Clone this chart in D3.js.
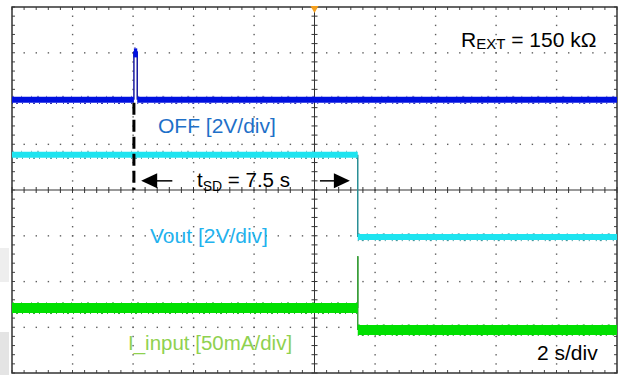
<!DOCTYPE html>
<html>
<head>
<meta charset="utf-8">
<script src="https://cdn.jsdelivr.net/npm/d3@7"></script>
<style>
  html, body { margin: 0; padding: 0; background: #fff; }
  svg { display: block; }
  text { font-family: "Liberation Sans", Arial, Helvetica, sans-serif; }
</style>
</head>
<body>
<svg id="chart" width="622" height="375"></svg>
<script>
// ---- data (time in s, 2 s/div; vertical position in screen divisions) ----
const timeDomain = [-10, 10];          // 10 div x 2 s/div
const divDomain = [-4, 4];             // 8 vertical divisions
const majorTimeStep = 2;
const minorTimeStep = 0.4;
const majorDivStep = 1;
const minorDivStep = 0.2;

// OFF channel (2V/div): baseline with a short pulse at the shutdown command
const offT = [-10, -5.97, -5.97, -5.86, -5.86, 10];
const offV = [1.97, 1.97, 3.03, 3.03, 1.97, 1.97];

// Vout channel (2V/div)
const voutT = [-10, 1.43, 1.43, 10];
const voutV = [0.77, 0.77, -1.03, -1.03];

// I_input channel (50mA/div)
const iinT = [-10, 1.43, 1.43, 1.43, 10];
const iinV = [-2.58, -2.58, -1.45, -3.06, -3.06];

// shutdown delay markers
const tShutdownStart = -5.97;
const tShutdownEnd = 1.43;
const tSD = 7.5;
const rExt = "150 kΩ";
const timeBase = "2 s/div";

// ---- chart ----
const svg = d3.select("#chart");
const x = d3.scaleLinear().domain(timeDomain).range([12, 617]);
const y = d3.scaleLinear().domain(divDomain).range([373, 7]);

// background artifacts at the left page edge
svg.append("rect").attr("x", 0).attr("y", 248).attr("width", 9).attr("height", 34).attr("fill", "#eeeeee");
svg.append("rect").attr("x", 0).attr("y", 332).attr("width", 9).attr("height", 43).attr("fill", "#e4e4e4");

const grid = svg.append("g");
const gridColor = "#5e5e5e";

const majorT = d3.range(timeDomain[0], timeDomain[1] + 1e-9, majorTimeStep);
const majorD = d3.range(divDomain[0], divDomain[1] + 1e-9, majorDivStep);
const minorT = d3.range(timeDomain[0], timeDomain[1] + 1e-9, minorTimeStep);
const minorD = d3.range(divDomain[0], divDomain[1] + 1e-9, minorDivStep);

// dotted horizontal grid rows
majorD.filter(d => Math.abs(d) > 1e-9 && Math.abs(Math.abs(d) - 4) > 1e-9).forEach(d => {
  grid.selectAll(null).data(minorT.slice(1, -1)).enter().append("rect")
    .attr("x", t => x(t) - 0.6).attr("y", y(d) - 0.6)
    .attr("width", 1.4).attr("height", 1.4).attr("fill", gridColor);
});
// dotted vertical grid columns
majorT.filter(t => Math.abs(t) > 1e-9 && Math.abs(Math.abs(t) - 10) > 1e-9).forEach(t => {
  grid.selectAll(null).data(minorD.slice(1, -1)).enter().append("rect")
    .attr("x", x(t) - 0.6).attr("y", d => y(d) - 0.6)
    .attr("width", 1.4).attr("height", 1.4).attr("fill", gridColor);
});

// center cross with minor ticks
grid.append("line").attr("x1", x(0)).attr("x2", x(0)).attr("y1", y(4)).attr("y2", y(-4))
  .attr("stroke", "#333").attr("stroke-width", 1);
grid.append("line").attr("x1", x(-10)).attr("x2", x(10)).attr("y1", y(0)).attr("y2", y(0))
  .attr("stroke", "#333").attr("stroke-width", 1);
grid.selectAll(null).data(minorD).enter().append("line")
  .attr("x1", x(0) - 3).attr("x2", x(0) + 3).attr("y1", d => y(d)).attr("y2", d => y(d))
  .attr("stroke", "#333").attr("stroke-width", 1);
grid.selectAll(null).data(minorT).enter().append("line")
  .attr("x1", t => x(t)).attr("x2", t => x(t)).attr("y1", y(0) - 3).attr("y2", y(0) + 3)
  .attr("stroke", "#333").attr("stroke-width", 1);

// border ticks (inward)
grid.selectAll(null).data(minorT).enter().append("line")
  .attr("x1", t => x(t)).attr("x2", t => x(t)).attr("y1", y(4)).attr("y2", y(4) + 3)
  .attr("stroke", "#444").attr("stroke-width", 1);
grid.selectAll(null).data(minorT).enter().append("line")
  .attr("x1", t => x(t)).attr("x2", t => x(t)).attr("y1", y(-4)).attr("y2", y(-4) - 3)
  .attr("stroke", "#444").attr("stroke-width", 1);
grid.selectAll(null).data(minorD).enter().append("line")
  .attr("x1", x(-10)).attr("x2", x(-10) + 3).attr("y1", d => y(d)).attr("y2", d => y(d))
  .attr("stroke", "#444").attr("stroke-width", 1);
grid.selectAll(null).data(minorD).enter().append("line")
  .attr("x1", x(10)).attr("x2", x(10) - 3).attr("y1", d => y(d)).attr("y2", d => y(d))
  .attr("stroke", "#444").attr("stroke-width", 1);

// border
grid.append("rect").attr("x", x(-10)).attr("y", y(4))
  .attr("width", x(10) - x(-10)).attr("height", y(-4) - y(4))
  .attr("fill", "none").attr("stroke", "#333").attr("stroke-width", 1.5);

// ---- traces ----
function drawTrace(ts, vs, bandColor, bandWidth, edgeColor, edgeWidth) {
  const g = svg.append("g");
  const segs = d3.range(ts.length - 1).map(i => ({ t0: ts[i], v0: vs[i], t1: ts[i + 1], v1: vs[i + 1] }));
  // vertical transitions (thin)
  g.selectAll(null).data(segs.filter(s => s.v0 !== s.v1)).enter().append("line")
    .attr("x1", s => x(s.t0)).attr("x2", s => x(s.t1))
    .attr("y1", s => y(s.v0)).attr("y2", s => y(s.v1))
    .attr("stroke", edgeColor).attr("stroke-width", edgeWidth);
  // horizontal levels (thick noisy band)
  const flat = segs.filter(s => s.v0 === s.v1);
  g.selectAll(null).data(flat).enter().append("line")
    .attr("x1", s => x(s.t0)).attr("x2", s => x(s.t1))
    .attr("y1", s => y(s.v0)).attr("y2", s => y(s.v1))
    .attr("stroke", bandColor).attr("stroke-width", bandWidth);
  // faint noise edges
  g.selectAll(null).data(flat).enter().append("line")
    .attr("x1", s => x(s.t0)).attr("x2", s => x(s.t1))
    .attr("y1", s => y(s.v0) + bandWidth / 2 + 0.5).attr("y2", s => y(s.v1) + bandWidth / 2 + 0.5)
    .attr("stroke", edgeColor).attr("stroke-width", 1).attr("stroke-dasharray", "1,3,2,4,1,6");
  g.selectAll(null).data(flat).enter().append("line")
    .attr("x1", s => x(s.t0)).attr("x2", s => x(s.t1))
    .attr("y1", s => y(s.v0) - bandWidth / 2 - 0.5).attr("y2", s => y(s.v1) - bandWidth / 2 - 0.5)
    .attr("stroke", edgeColor).attr("stroke-width", 1).attr("stroke-dasharray", "2,7,1,9,1,5").attr("opacity", 0.6);
  return g;
}

drawTrace(iinT, iinV, "#00e000", 10, "#3a9e3a", 1.5);
drawTrace(voutT, voutV, "#1ee4f0", 6, "#2a8f96", 1.5);
const offG = drawTrace(offT, offV, "#0010e0", 6, "#1a1aa0", 1.5);
// pulse cap
offG.append("rect")
  .attr("x", x(offT[2]) - 0.5).attr("y", y(offV[2]))
  .attr("width", x(offT[3]) - x(offT[2]) + 1).attr("height", 6)
  .attr("fill", "#0010e0");

// dashed marker at shutdown command
svg.append("line")
  .attr("x1", x(tShutdownStart)).attr("x2", x(tShutdownStart))
  .attr("y1", y(offV[0]) + 3).attr("y2", y(0))
  .attr("stroke", "#000").attr("stroke-width", 3).attr("stroke-dasharray", "12,5");

// arrows
const arrowY = y(0.2);
function arrow(tipT, tailT) {
  const tip = x(tipT), tail = x(tailT);
  const dir = Math.sign(tail - tip);
  svg.append("line").attr("x1", tip + dir * 10).attr("x2", tail)
    .attr("y1", arrowY).attr("y2", arrowY).attr("stroke", "#000").attr("stroke-width", 1.5);
  svg.append("path")
    .attr("d", `M${tip},${arrowY} L${tip + dir * 16},${arrowY - 7.5} L${tip + dir * 16},${arrowY + 7.5} Z`)
    .attr("fill", "#000");
}
arrow(tShutdownStart + 0.24, tShutdownStart + 1.27);
arrow(tShutdownEnd - 0.26, tShutdownEnd - 1.25);

// trigger marker
svg.append("path")
  .attr("d", `M${x(0) - 4},${y(4) - 1} L${x(0) + 4},${y(4) - 1} L${x(0)},${y(4) + 6} Z`)
  .attr("fill", "#f5a01e");

// ---- labels ----
const tsd = svg.append("text").attr("x", 197).attr("y", 187).attr("font-size", 20.5).attr("fill", "#000");
tsd.append("tspan").text("t");
tsd.append("tspan").attr("font-size", 14).attr("dy", 4).text("SD");
tsd.append("tspan").attr("dy", -4).text(` = ${tSD} s`);

const rx = svg.append("text").attr("x", 461).attr("y", 47).attr("font-size", 21).attr("fill", "#000");
rx.append("tspan").text("R");
rx.append("tspan").attr("font-size", 15).attr("dy", 2).text("EXT");
rx.append("tspan").attr("dy", -2).text(` = ${rExt}`);

svg.append("text").attr("x", 158).attr("y", 133).attr("font-size", 21).attr("fill", "#1f70c8").text("OFF [2V/div]");
svg.append("text").attr("x", 150).attr("y", 243).attr("font-size", 21).attr("fill", "#22b2ee").text("Vout [2V/div]");
svg.append("text").attr("x", 128).attr("y", 350).attr("font-size", 20.5).attr("fill", "#8fd14f").text("I_input [50mA/div]");
svg.append("text").attr("x", 537).attr("y", 360).attr("font-size", 21).attr("fill", "#000").text(timeBase);
</script>
</body>
</html>
